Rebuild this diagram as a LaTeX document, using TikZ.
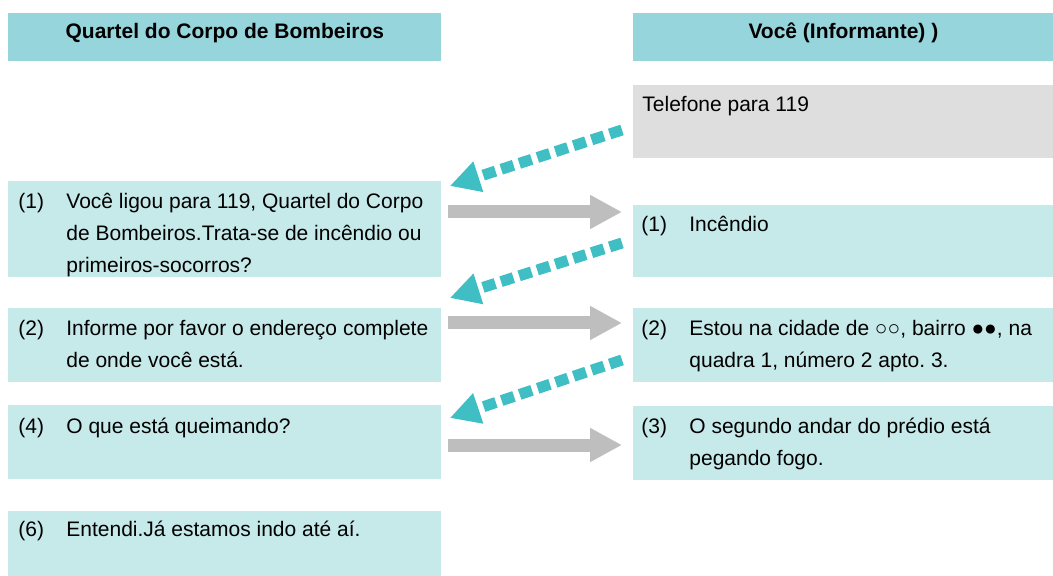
\documentclass[tikz,border=0pt]{standalone}
\usepackage{fontspec}
\setmainfont{Liberation Sans}
\usetikzlibrary{arrows.meta,calc}
\frenchspacing
\definecolor{headcyan}{HTML}{96D5DB}
\definecolor{boxcyan}{HTML}{C6E9EA}
\definecolor{boxgray}{HTML}{DEDEDE}
\definecolor{dashteal}{HTML}{3FBFC3}
\definecolor{arrowgray}{HTML}{BEBEBE}
\tikzstyle{head}=[rectangle, fill=headcyan, anchor=north west, inner sep=0pt, minimum height=24pt]
\tikzstyle{msg}=[rectangle, fill=boxcyan, anchor=north west, inner sep=0pt]
\tikzstyle{txt}=[anchor=base west, inner sep=0pt, align=left]
\tikzstyle{reply}=[line width=5.5pt, dashteal, dash pattern=on 6.5pt off 3pt, -{Triangle[length=15pt,width=15pt]}]
\tikzstyle{ask}=[line width=6.5pt, arrowgray, -{Triangle[length=16pt,width=16pt]}]
\newcommand{\msgline}[2]{\makebox[24pt][l]{#1}\parbox[t]{200pt}{\raggedright #2}}

\begin{document}
\begin{tikzpicture}[x=0.5pt, y=-0.5pt, font=\fontsize{10.5}{16}\selectfont]
    \useasboundingbox (0,0) rectangle (1053,576);
    % headers
    \node[head, minimum width=216.5pt] (hL) at (8,13) {};
    \node[head, minimum width=210pt] (hR) at (633,13) {};
    \node[anchor=base, inner sep=0pt] (hLt) at ($(hL.north)+(0,26)$) {\bfseries Quartel do Corpo de Bombeiros};
    \node[anchor=base, inner sep=0pt] (hRt) at ($(hR.north)+(0,26)$) {\bfseries Você (Informante) )};
    % left column
    \node[msg, minimum width=216.5pt, minimum height=48pt] (L1) at (8,181) {};
    \node[msg, minimum width=216.5pt, minimum height=37pt] (L2) at (8,308) {};
    \node[msg, minimum width=216.5pt, minimum height=37pt] (L3) at (8,405) {};
    \node[msg, minimum width=216.5pt, minimum height=32.5pt] (L4) at (8,511) {};
    \node[txt] (L1t) at ($(L1.north west)+(10,28)$) {\msgline{(1)}{Você ligou para 119, Quartel do Corpo\\de Bombeiros.Trata-se de incêndio ou\\primeiros-socorros?}};
    \node[txt] (L2t) at ($(L2.north west)+(10,28)$) {\msgline{(2)}{Informe por favor o endereço complete\\de onde você está.}};
    \node[txt] (L3t) at ($(L3.north west)+(10,28)$) {\msgline{(4)}{O que está queimando?}};
    \node[txt] (L4t) at ($(L4.north west)+(10,25)$) {\msgline{(6)}{Entendi.Já estamos indo até aí.}};
    % right column
    \node[msg, fill=boxgray, minimum width=210pt, minimum height=36.5pt] (tel) at (633,85) {};
    \node[msg, minimum width=210pt, minimum height=36pt] (R1) at (633,205) {};
    \node[msg, minimum width=210pt, minimum height=37pt] (R2) at (633,308) {};
    \node[msg, minimum width=210pt, minimum height=37pt] (R3) at (633,406) {};
    \node[txt] (telt) at ($(tel.north west)+(9,27)$) {Telefone para 119};
    \node[txt] (R1t) at ($(R1.north west)+(8,27)$) {\msgline{(1)}{Incêndio}};
    \node[txt] (R2t) at ($(R2.north west)+(8,28)$) {\msgline{(2)}{Estou na cidade de ○○, bairro ●●, na\\quadra 1, número 2 apto. 3.}};
    \node[txt] (R3t) at ($(R3.north west)+(8,28)$) {\msgline{(3)}{O segundo andar do prédio está\\pegando fogo.}};
    % arrows
    \draw[reply] ($(tel.north west)+(-11,45)$) -- ($(L1.north east)+(8,5)$);
    \draw[reply] ($(R1.north west)+(-11,38)$) -- ($(L2.north east)+(8,-10)$);
    \draw[reply] ($(R2.north west)+(-11,52)$) -- ($(L3.north east)+(8,13)$);
    \draw[ask] ($(L1.north east)+(6,31)$) -- ($(R1.north west)+(-11,7)$);
    \draw[ask] ($(L2.north east)+(6,15)$) -- ($(R2.north west)+(-11,15)$);
    \draw[ask] ($(L3.north east)+(6,40)$) -- ($(R3.north west)+(-11,39)$);
\end{tikzpicture}
\end{document}
